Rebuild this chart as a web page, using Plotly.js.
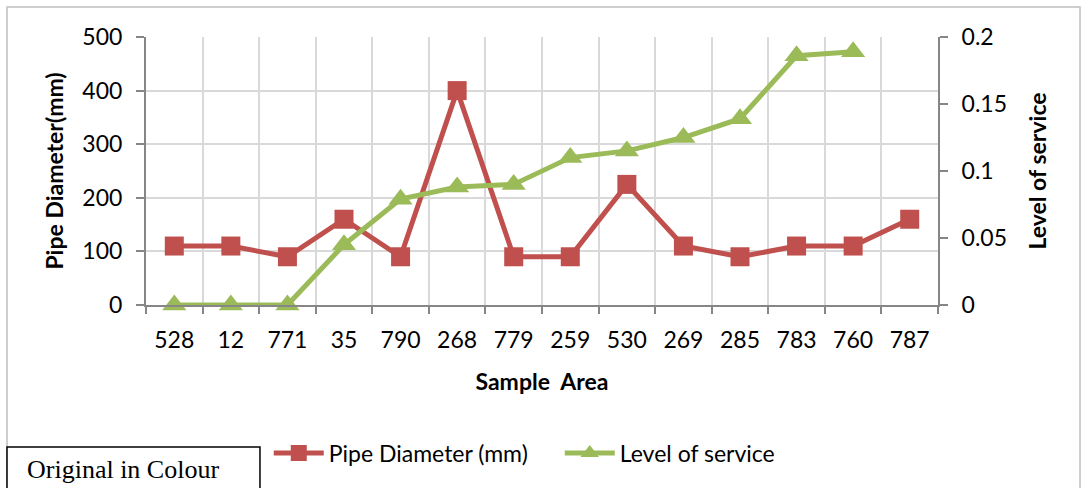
<!DOCTYPE html>
<html>
<head>
<meta charset="utf-8">
<script src="https://cdn.plot.ly/plotly-3.0.1.min.js"></script>
<style>
html,body{margin:0;padding:0;background:#fff;}
#chart{width:1086px;height:488px;}
</style>
</head>
<body>
<div id="chart"></div>
<script>
var sampleAreas = ['528','12','771','35','790','268','779','259','530','269','285','783','760','787'];
var pipeDiameter = [110,110,90,160,90,400,90,90,225,110,90,110,110,160];
var levelOfService = [0,0,0,0.045,0.079,0.088,0.09,0.11,0.115,0.125,0.139,0.186,0.189,null];

var FONT = 'Lato, "Open Sans", sans-serif';
var FS = 23;

var traces = [
  {
    x: sampleAreas, y: pipeDiameter, name: 'Pipe Diameter (mm)',
    type: 'scatter', mode: 'lines+markers', yaxis: 'y', cliponaxis: false,
    line: {color: '#C0504D', width: 5},
    marker: {symbol: 'square', size: 19, color: '#C0504D'}
  },
  {
    x: sampleAreas, y: levelOfService, name: 'Level of service',
    type: 'scatter', mode: 'lines+markers', yaxis: 'y2', cliponaxis: false,
    line: {color: '#9BBB59', width: 5},
    marker: {symbol: 'triangle-up', size: 21, color: '#9BBB59'}
  }
];

var layout = {
  width: 1086, height: 488,
  margin: {l: 146, r: 148, t: 37, b: 183},
  paper_bgcolor: '#ffffff', plot_bgcolor: '#ffffff',
  font: {family: FONT, size: FS, color: '#000'},
  showlegend: true,
  legend: {
    orientation: 'h', x: 0.155, xanchor: 'left', y: -0.552, yanchor: 'middle',
    font: {family: FONT, size: FS, color: '#000'},
    itemwidth: 50,
    entrywidth: 226, entrywidthmode: 'pixels', bgcolor: 'rgba(0,0,0,0)'
  },
  xaxis: {
    type: 'category', tickson: 'boundaries', range: [-0.5, 13.5],
    showgrid: true, gridcolor: '#d9d9d9', gridwidth: 2,
    showline: true, linecolor: '#868686', linewidth: 2,
    ticks: 'outside', ticklen: 7, tickcolor: '#868686', tickwidth: 2,
    ticklabelstandoff: 13,
    tickfont: {family: FONT, size: FS},
    title: {text: 'Sample  Area', font: {family: FONT, size: FS, weight: 'bold'}, standoff: 22},
    automargin: false, fixedrange: true
  },
  yaxis: {
    range: [0, 500], tickvals: [0,100,200,300,400,500],
    showgrid: true, gridcolor: '#d9d9d9', gridwidth: 2, zeroline: false,
    showline: true, linecolor: '#868686', linewidth: 2,
    ticks: 'outside', ticklen: 8, tickcolor: '#868686', tickwidth: 2,
    ticklabelstandoff: 9,
    tickfont: {family: FONT, size: FS},
    title: {text: 'Pipe Diameter(mm)', font: {family: FONT, size: FS, weight: 'bold'}, standoff: 12},
    automargin: false, fixedrange: true
  },
  yaxis2: {
    overlaying: 'y', side: 'right',
    range: [0, 0.2], tickvals: [0,0.05,0.1,0.15,0.2], ticktext: ['0','0.05','0.1','0.15','0.2'],
    showgrid: false, zeroline: false,
    showline: true, linecolor: '#868686', linewidth: 2,
    ticks: 'outside', ticklen: 8, tickcolor: '#868686', tickwidth: 2,
    ticklabelstandoff: 9,
    tickfont: {family: FONT, size: FS},
    title: {text: 'Level of service', font: {family: FONT, size: FS, weight: 'bold'}, standoff: 24},
    automargin: false, fixedrange: true
  },
  shapes: [
    {type: 'rect', xref: 'paper', yref: 'paper', x0: -0.1755, x1: 1.1793, y0: -0.75, y1: 1.112,
     line: {color: '#bfbfbf', width: 1.5}, fillcolor: 'rgba(0,0,0,0)', layer: 'below'},
    {type: 'rect', xref: 'paper', yref: 'paper', x0: -0.1755, x1: 0.1439, y0: -0.75, y1: -0.530,
     line: {color: '#000', width: 1.5}, fillcolor: '#ffffff'}
  ],
  annotations: [
    {xref: 'paper', yref: 'paper', x: -0.153, y: -0.615, xanchor: 'left', yanchor: 'middle',
     text: 'Original in Colour', showarrow: false,
     font: {family: '"Liberation Serif", "DejaVu Serif", serif', size: 26, color: '#000'}}
  ]
};

Plotly.newPlot('chart', traces, layout, {displayModeBar: false, staticPlot: true});
</script>
</body>
</html>
